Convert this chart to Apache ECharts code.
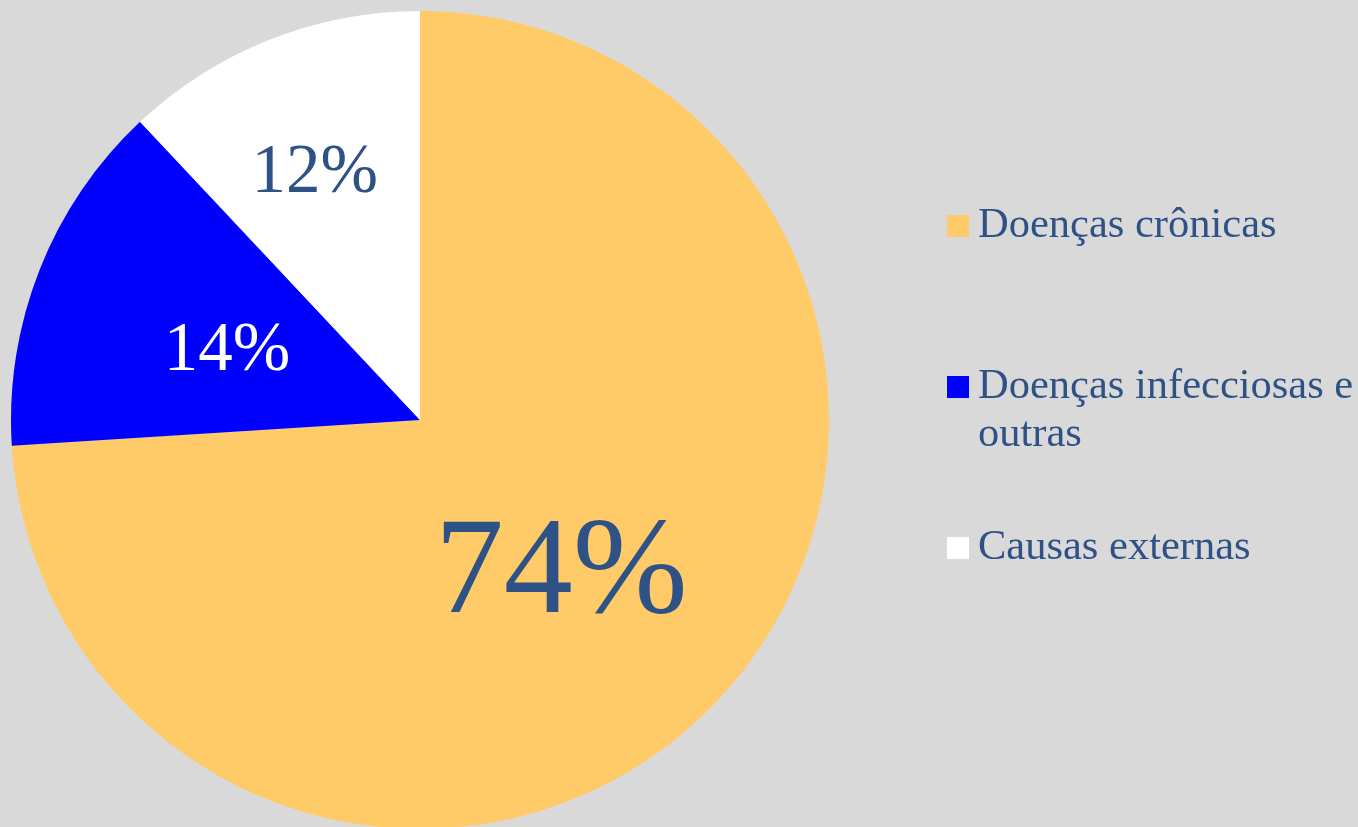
<!DOCTYPE html>
<html>
<head>
<meta charset="utf-8">
<title>Causas de morte</title>
<script src="https://cdn.jsdelivr.net/npm/echarts@6/dist/echarts.min.js"></script>
<style>
    html, body { margin: 0; padding: 0; background: #D9D9D9; }
    #chart { width: 1358px; height: 827px; }
</style>
</head>
<body>
<div id="chart"></div>
<script>
    // dados (percentuais)
    var categorias = ['Doenças crônicas', 'Doenças infecciosas e outras', 'Causas externas'];
    var valores = [74, 14, 12];
    var cores = ['#FFCB69', '#0000FF', '#FFFFFF'];

    var corTexto = '#2F5286';
    var fonte = '"Liberation Serif", "Times New Roman", serif';

    // estilo de cada rótulo (tamanho, cor, ajuste fino de posição)
    var rotulos = [
        { fontSize: 138, color: corTexto, offset: [-10, 14] },
        { fontSize: 69, color: '#FFFFFF', offset: [0, 8] },
        { fontSize: 69, color: corTexto, offset: [-29, -53] }
    ];

    var dados = categorias.map(function (nome, i) {
        return {
            name: nome,
            value: valores[i],
            itemStyle: { color: cores[i] },
            label: rotulos[i]
        };
    });

    // uma legenda por item para posicionar como no original
    var legendaTop = [202, 315, 524];
    var legendas = categorias.map(function (nome, i) {
        return {
            data: [nome],
            orient: 'vertical',
            left: 947,
            top: legendaTop[i],
            padding: 0,
            icon: 'rect',
            itemWidth: 22,
            itemHeight: 22,
            itemGap: 0,
            selectedMode: false,
            formatter: function (n) {
                // linha vazia no topo para o ícone ficar alinhado à primeira linha do texto
                return n === 'Doenças infecciosas e outras' ? '\nDoenças infecciosas e\noutras' : n;
            },
            textStyle: {
                fontFamily: fonte,
                fontSize: 42.5,
                lineHeight: 48,
                color: corTexto,
                padding: [0, 0, 0, 4]
            }
        };
    });

    var myChart = echarts.init(document.getElementById('chart'));
    myChart.setOption({
        backgroundColor: '#D9D9D9',
        animation: false,
        legend: legendas,
        series: [{
            type: 'pie',
            center: [420, 420],
            radius: 409,
            startAngle: 90,
            clockwise: true,
            label: {
                show: true,
                position: 'inside',
                formatter: '{c}%',
                fontFamily: fonte
            },
            labelLine: { show: false },
            itemStyle: { borderWidth: 0 },
            emphasis: { disabled: true },
            data: dados
        }]
    });
</script>
</body>
</html>
